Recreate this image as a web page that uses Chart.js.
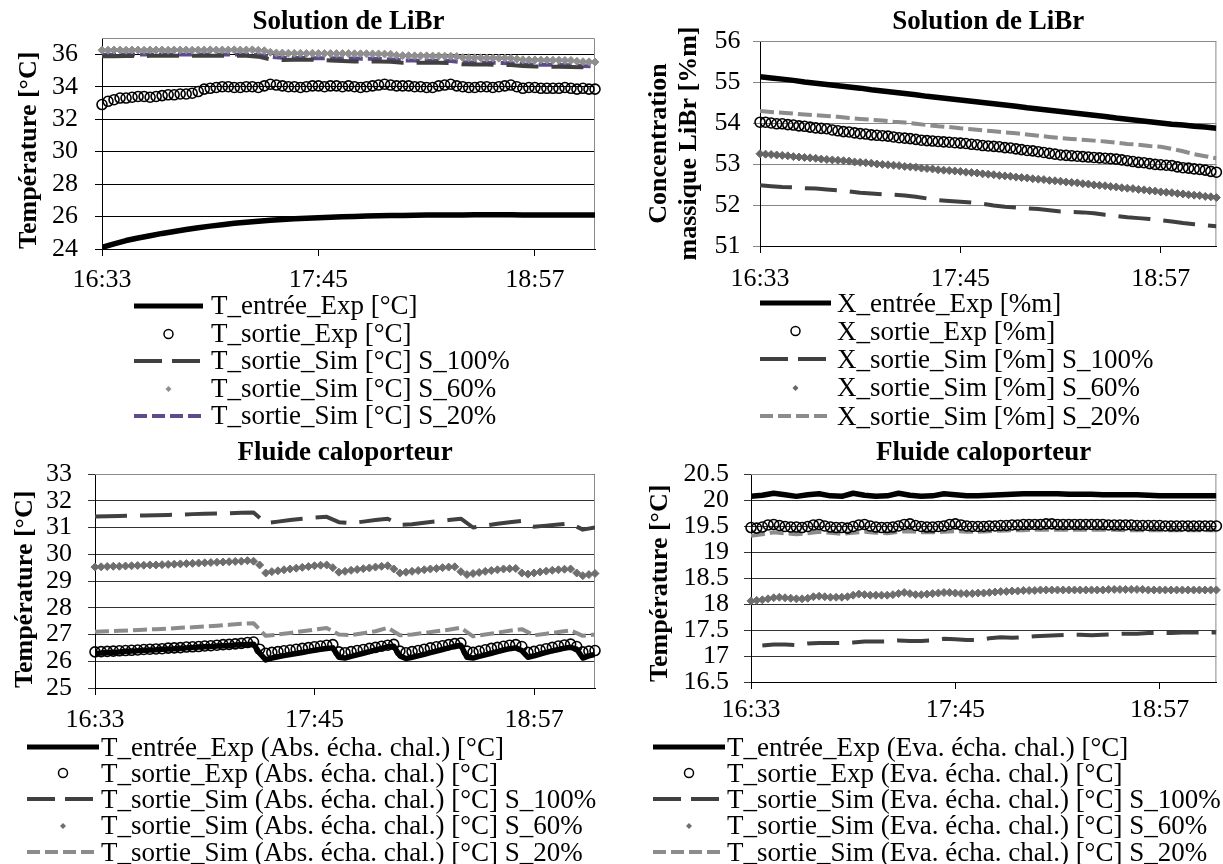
<!DOCTYPE html>
<html lang="fr">
<head>
<meta charset="utf-8">
<title>Solution de LiBr / Fluide caloporteur</title>
<script src="https://cdn.jsdelivr.net/npm/chart.js@4.4.1/dist/chart.umd.min.js"></script>
<style>
  html, body { margin: 0; padding: 0; background: #fff; }
  body { position: relative; width: 1223px; height: 864px; overflow: hidden;
         font-family: "Liberation Serif", "Times New Roman", serif; color: #000; }
  canvas { position: absolute; }
  .legend { position: absolute; font-size: 27px; }
  .legend .row { display: flex; align-items: center; white-space: nowrap; }
  .legend svg { flex: none; display: block; }
</style>
</head>
<body>
<canvas id="c1" width="610" height="300" style="left:0;top:0"></canvas>
<canvas id="c2" width="613" height="300" style="left:610px;top:0"></canvas>
<canvas id="c3" width="610" height="310" style="left:0;top:430px"></canvas>
<canvas id="c4" width="613" height="310" style="left:610px;top:430px"></canvas>
<div id="lg1" class="legend"></div>
<div id="lg2" class="legend"></div>
<div id="lg3" class="legend"></div>
<div id="lg4" class="legend"></div>
<script>
// ----------------------------- data ---------------------- >>
// time in minutes after 16:33
const xTickVals = [0, 72, 144];
const xTickLabels = ['16:33', '17:45', '18:57'];
const xRange = [0, 164];

const t2 = [0, 2, 4, 6, 8, 10, 12, 14, 16, 18,
  20, 22, 24, 26, 28, 30, 32, 34, 36, 38,
  40, 42, 44, 46, 48, 50, 52, 54, 56, 58,
  60, 62, 64, 66, 68, 70, 72, 74, 76, 78,
  80, 82, 84, 86, 88, 90, 92, 94, 96, 98,
  100, 102, 104, 106, 108, 110, 112, 114, 116, 118,
  120, 122, 124, 126, 128, 130, 132, 134, 136, 138,
  140, 142, 144, 146, 148, 150, 152, 154, 156, 158,
  160, 162, 164];
const t4 = [0, 4, 8, 12, 16, 20, 24, 28, 32, 36,
  40, 44, 48, 52, 56, 60, 64, 68, 72, 76,
  80, 84, 88, 92, 96, 100, 104, 108, 112, 116,
  120, 124, 128, 132, 136, 140, 144, 148, 152, 156,
  160, 164];

// Solution de LiBr - temperature
const p1Names = ['T_entrée_Exp [°C]', 'T_sortie_Exp [°C]', 'T_sortie_Sim [°C] S_100%',
  'T_sortie_Sim [°C] S_60%', 'T_sortie_Sim [°C] S_20%'];
const p1Ticks = [24, 26, 28, 30, 32, 34, 36];
const p1Entree = [24.1, 24.32, 24.52, 24.68, 24.82, 24.96, 25.08, 25.2, 25.31, 25.41,
  25.5, 25.58, 25.65, 25.71, 25.77, 25.82, 25.86, 25.9, 25.93, 25.96,
  25.99, 26.01, 26.03, 26.05, 26.06, 26.07, 26.08, 26.09, 26.1, 26.1,
  26.1, 26.11, 26.11, 26.11, 26.11, 26.1, 26.1, 26.1, 26.1, 26.1,
  26.1, 26.1];
const p1SortieExp = [32.9, 33.1, 33.2, 33.3, 33.3, 33.35, 33.4, 33.4, 33.35, 33.4,
  33.45, 33.5, 33.5, 33.55, 33.55, 33.6, 33.7, 33.85, 33.9, 33.95,
  34.0, 34.0, 33.95, 33.95, 34.0, 34.0, 33.95, 34.05, 34.15, 34.1,
  34.05, 34.0, 34.0, 33.95, 34.0, 34.05, 34.05, 34.0, 34.05, 34.05,
  34.0, 34.05, 34.0, 33.95, 34.0, 34.05, 34.1, 34.15, 34.1, 34.05,
  34.05, 34.05, 34.0, 34.0, 33.95, 33.95, 34.05, 34.1, 34.15, 34.05,
  34.0, 33.95, 33.95, 34.0, 34.0, 33.95, 34.0, 34.05, 34.1, 34.0,
  33.9, 33.95, 33.95, 33.9, 33.9, 33.9, 33.9, 33.95, 33.9, 33.85,
  33.9, 33.85, 33.85];
const p1Sim100 = [35.88, 35.88, 35.89, 35.89, 35.9, 35.9, 35.9, 35.9, 35.9, 35.91,
  35.91, 35.91, 35.9, 35.85, 35.68, 35.65, 35.66, 35.66, 35.65, 35.62,
  35.58, 35.55, 35.55, 35.55, 35.53, 35.48, 35.48, 35.48, 35.47, 35.45,
  35.38, 35.36, 35.36, 35.35, 35.33, 35.28, 35.25, 35.24, 35.23, 35.22,
  35.2, 35.18];
const p1Sim60 = [36.25, 36.25, 36.26, 36.26, 36.25, 36.26, 36.26, 36.25, 36.26, 36.26,
  36.26, 36.25, 36.26, 36.26, 36.26, 36.25, 36.26, 36.26, 36.27, 36.26,
  36.26, 36.26, 36.27, 36.26, 36.26, 36.27, 36.25, 36.22, 36.12, 36.08,
  36.07, 36.06, 36.06, 36.06, 36.05, 36.06, 36.05, 36.05, 36.05, 36.04,
  36.04, 36.04, 36.03, 36.03, 36.03, 36.02, 36.02, 36.01, 36.0, 35.93,
  35.91, 35.91, 35.9, 35.9, 35.9, 35.89, 35.89, 35.88, 35.88, 35.86,
  35.8, 35.79, 35.78, 35.78, 35.77, 35.77, 35.76, 35.76, 35.75, 35.7,
  35.66, 35.65, 35.65, 35.64, 35.64, 35.63, 35.63, 35.62, 35.62, 35.56,
  35.54, 35.53, 35.52];
const p1Sim20 = [35.97, 35.97, 35.98, 35.98, 35.98, 35.98, 35.98, 35.99, 35.99, 35.99,
  35.99, 35.99, 35.98, 35.96, 35.85, 35.78, 35.77, 35.76, 35.76, 35.75,
  35.74, 35.73, 35.72, 35.71, 35.68, 35.62, 35.61, 35.6, 35.6, 35.58,
  35.5, 35.49, 35.48, 35.47, 35.45, 35.38, 35.36, 35.35, 35.34, 35.32,
  35.27, 35.25];

// Solution de LiBr - concentration
const p2Names = ['X_entrée_Exp [%m]', 'X_sortie_Exp [%m]', 'X_sortie_Sim [%m] S_100%',
  'X_sortie_Sim [%m] S_60%', 'X_sortie_Sim [%m] S_20%'];
const p2Ticks = [51, 52, 53, 54, 55, 56];
const p2Entree = [55.13, 55.1, 55.07, 55.04, 55.0, 54.97, 54.94, 54.91, 54.88, 54.85,
  54.81, 54.78, 54.75, 54.72, 54.69, 54.65, 54.62, 54.59, 54.56, 54.53,
  54.5, 54.47, 54.44, 54.41, 54.37, 54.34, 54.31, 54.28, 54.25, 54.22,
  54.19, 54.16, 54.12, 54.09, 54.06, 54.03, 54.0, 53.97, 53.95, 53.92,
  53.9, 53.87];
const p2SortieExp = [54.02, 54.02, 54.0, 53.98, 53.98, 53.96, 53.95, 53.93, 53.92, 53.9,
  53.88, 53.87, 53.86, 53.83, 53.81, 53.79, 53.78, 53.76, 53.74, 53.73,
  53.71, 53.7, 53.69, 53.68, 53.66, 53.64, 53.63, 53.62, 53.6, 53.58,
  53.57, 53.56, 53.55, 53.54, 53.53, 53.52, 53.51, 53.5, 53.48, 53.47,
  53.45, 53.44, 53.43, 53.42, 53.4, 53.39, 53.37, 53.35, 53.33, 53.32,
  53.3, 53.28, 53.26, 53.24, 53.22, 53.21, 53.2, 53.19, 53.18, 53.17,
  53.16, 53.15, 53.14, 53.13, 53.12, 53.1, 53.08, 53.06, 53.04, 53.03,
  53.01, 52.99, 52.98, 52.97, 52.96, 52.93, 52.91, 52.9, 52.88, 52.87,
  52.85, 52.82, 52.8];
const p2Sim100 = [52.48, 52.46, 52.44, 52.43, 52.41, 52.4, 52.38, 52.36, 52.33, 52.3,
  52.28, 52.26, 52.25, 52.23, 52.2, 52.16, 52.12, 52.1, 52.08, 52.06,
  52.03, 51.99, 51.96, 51.94, 51.92, 51.9, 51.87, 51.84, 51.83, 51.82,
  51.8, 51.76, 51.73, 51.7, 51.68, 51.66, 51.63, 51.6, 51.56, 51.53,
  51.51, 51.48];
const p2Sim60 = [53.25, 53.24, 53.23, 53.22, 53.21, 53.2, 53.18, 53.17, 53.16, 53.15,
  53.14, 53.12, 53.11, 53.1, 53.09, 53.08, 53.07, 53.05, 53.04, 53.03,
  53.02, 53.0, 52.99, 52.98, 52.97, 52.96, 52.94, 52.93, 52.92, 52.9,
  52.89, 52.88, 52.86, 52.85, 52.84, 52.83, 52.82, 52.8, 52.79, 52.78,
  52.76, 52.75, 52.74, 52.72, 52.71, 52.7, 52.68, 52.67, 52.66, 52.64,
  52.63, 52.62, 52.6, 52.59, 52.58, 52.56, 52.55, 52.54, 52.52, 52.51,
  52.49, 52.48, 52.47, 52.45, 52.44, 52.42, 52.41, 52.4, 52.38, 52.37,
  52.35, 52.34, 52.32, 52.31, 52.3, 52.28, 52.27, 52.25, 52.24, 52.23,
  52.21, 52.2, 52.18];
const p2Sim20 = [54.29, 54.27, 54.25, 54.23, 54.21, 54.19, 54.17, 54.15, 54.12, 54.1,
  54.08, 54.06, 54.03, 54.01, 53.98, 53.95, 53.92, 53.9, 53.87, 53.85,
  53.82, 53.8, 53.77, 53.75, 53.72, 53.69, 53.66, 53.63, 53.61, 53.59,
  53.57, 53.55, 53.52, 53.49, 53.47, 53.44, 53.42, 53.37, 53.31, 53.24,
  53.19, 53.14];

// Fluide caloporteur - absorbeur
const p3Names = ['T_entrée_Exp (Abs. écha. chal.) [°C]', 'T_sortie_Exp (Abs. écha. chal.) [°C]',
  'T_sortie_Sim (Abs. écha. chal.) [°C] S_100%', 'T_sortie_Sim (Abs. écha. chal.) [°C] S_60%',
  'T_sortie_Sim (Abs. écha. chal.) [°C] S_20%'];
const p3Ticks = [25, 26, 27, 28, 29, 30, 31, 32, 33];
const p3Entree = [26.3, 26.31, 26.33, 26.34, 26.35, 26.37, 26.38, 26.39, 26.41, 26.42,
  26.43, 26.45, 26.46, 26.47, 26.49, 26.5, 26.51, 26.53, 26.54, 26.55,
  26.57, 26.58, 26.59, 26.61, 26.62, 26.63, 26.64, 26.3, 26.05, 26.12,
  26.17, 26.21, 26.25, 26.29, 26.33, 26.37, 26.41, 26.45, 26.48, 26.5,
  26.15, 26.12, 26.18, 26.24, 26.3, 26.36, 26.42, 26.48, 26.54, 26.56,
  26.2, 26.1, 26.15, 26.2, 26.26, 26.32, 26.38, 26.44, 26.5, 26.56,
  26.6, 26.15, 26.12, 26.18, 26.24, 26.3, 26.36, 26.42, 26.47, 26.5,
  26.4, 26.15, 26.2, 26.27, 26.33, 26.39, 26.44, 26.49, 26.52, 26.45,
  26.12, 26.2, 26.26];
const p3SortieExp = [26.35, 26.36, 26.37, 26.38, 26.39, 26.4, 26.41, 26.42, 26.44, 26.45,
  26.46, 26.47, 26.49, 26.5, 26.51, 26.53, 26.54, 26.55, 26.57, 26.58,
  26.6, 26.62, 26.63, 26.65, 26.67, 26.7, 26.72, 26.45, 26.3, 26.33,
  26.36, 26.39, 26.42, 26.45, 26.48, 26.51, 26.54, 26.57, 26.6, 26.62,
  26.35, 26.32, 26.36, 26.4, 26.44, 26.48, 26.52, 26.56, 26.6, 26.63,
  26.38, 26.32, 26.36, 26.4, 26.45, 26.5, 26.54, 26.58, 26.62, 26.66,
  26.68, 26.38, 26.33, 26.38, 26.43, 26.48, 26.52, 26.56, 26.6, 26.62,
  26.55, 26.33, 26.37, 26.42, 26.47, 26.52, 26.57, 26.61, 26.64, 26.55,
  26.35, 26.38, 26.4];
const p3Sim100 = [31.41, 31.42, 31.43, 31.44, 31.45, 31.46, 31.47, 31.48, 31.5, 31.51,
  31.52, 31.53, 31.55, 31.56, 31.16, 31.22, 31.28, 31.33, 31.37, 31.4,
  31.2, 31.16, 31.22, 31.28, 31.33, 31.1, 31.12, 31.18, 31.23, 31.28,
  31.33, 31.0, 31.07, 31.14, 31.2, 31.25, 31.03, 31.07, 31.11, 31.15,
  30.92, 31.0];
const p3Sim60 = [29.52, 29.53, 29.54, 29.55, 29.55, 29.56, 29.57, 29.58, 29.59, 29.6,
  29.6, 29.61, 29.62, 29.63, 29.64, 29.65, 29.66, 29.67, 29.68, 29.69,
  29.7, 29.71, 29.72, 29.73, 29.74, 29.76, 29.74, 29.6, 29.3, 29.35,
  29.38, 29.42, 29.45, 29.48, 29.51, 29.54, 29.57, 29.59, 29.6, 29.5,
  29.33, 29.36, 29.4, 29.43, 29.46, 29.49, 29.52, 29.55, 29.57, 29.45,
  29.3, 29.33, 29.36, 29.39, 29.42, 29.45, 29.47, 29.5, 29.52, 29.53,
  29.35, 29.24, 29.28, 29.32, 29.36, 29.39, 29.42, 29.45, 29.46, 29.47,
  29.3, 29.26, 29.3, 29.34, 29.37, 29.4, 29.42, 29.44, 29.45, 29.3,
  29.2, 29.24, 29.28];
const p3Sim20 = [27.1, 27.12, 27.14, 27.16, 27.18, 27.2, 27.22, 27.25, 27.27, 27.3,
  27.33, 27.36, 27.4, 27.42, 26.95, 27.0, 27.06, 27.12, 27.18, 27.24,
  27.0, 26.98, 27.05, 27.12, 27.25, 26.97, 27.0, 27.06, 27.12, 27.18,
  27.25, 26.93, 27.0, 27.07, 27.14, 27.2, 26.97, 27.03, 27.09, 27.15,
  26.95, 27.0];

// Fluide caloporteur - evaporateur
const p4Names = ['T_entrée_Exp (Eva. écha. chal.) [°C]', 'T_sortie_Exp (Eva. écha. chal.) [°C]',
  'T_sortie_Sim (Eva. écha. chal.) [°C] S_100%', 'T_sortie_Sim (Eva. écha. chal.) [°C] S_60%',
  'T_sortie_Sim (Eva. écha. chal.) [°C] S_20%'];
const p4Ticks = [16.5, 17, 17.5, 18, 18.5, 19, 19.5, 20, 20.5];
const p4Entree = [20.07, 20.09, 20.13, 20.1, 20.07, 20.1, 20.12, 20.08, 20.07, 20.13,
  20.09, 20.07, 20.08, 20.13, 20.09, 20.07, 20.08, 20.12, 20.1, 20.08,
  20.08, 20.09, 20.1, 20.11, 20.12, 20.12, 20.12, 20.12, 20.11, 20.11,
  20.11, 20.1, 20.1, 20.1, 20.1, 20.09, 20.08, 20.08, 20.08, 20.08,
  20.08, 20.08];
const p4SortieExp = [19.47, 19.46, 19.48, 19.52, 19.53, 19.51, 19.49, 19.48, 19.48, 19.47,
  19.49, 19.52, 19.53, 19.5, 19.48, 19.47, 19.47, 19.46, 19.49, 19.52,
  19.53, 19.5, 19.48, 19.47, 19.47, 19.48, 19.5, 19.53, 19.54, 19.51,
  19.49, 19.48, 19.48, 19.49, 19.5, 19.53, 19.54, 19.52, 19.5, 19.49,
  19.49, 19.49, 19.5, 19.5, 19.51, 19.51, 19.52, 19.52, 19.53, 19.53,
  19.53, 19.53, 19.54, 19.54, 19.53, 19.53, 19.53, 19.53, 19.53, 19.53,
  19.53, 19.53, 19.53, 19.52, 19.52, 19.52, 19.52, 19.52, 19.51, 19.51,
  19.51, 19.51, 19.51, 19.5, 19.5, 19.5, 19.5, 19.5, 19.5, 19.5,
  19.5, 19.5, 19.5];
const p4Sim100 = [null, 17.2, 17.22, 17.22, 17.21, 17.24, 17.25, 17.25, 17.25, 17.26,
  17.28, 17.28, 17.28, 17.3, 17.29, 17.29, 17.3, 17.33, 17.32, 17.31,
  17.31, 17.34, 17.36, 17.35, 17.36, 17.38, 17.39, 17.4, 17.41, 17.41,
  17.4, 17.41, 17.42, 17.43, 17.43, 17.44, 17.44, 17.44, 17.45, 17.45,
  17.45, 17.45];
const p4Sim60 = [18.06, 18.07, 18.08, 18.1, 18.12, 18.13, 18.12, 18.11, 18.1, 18.1,
  18.11, 18.14, 18.15, 18.14, 18.13, 18.13, 18.13, 18.14, 18.17, 18.19,
  18.18, 18.17, 18.17, 18.17, 18.17, 18.18, 18.2, 18.22, 18.2, 18.18,
  18.18, 18.19, 18.2, 18.21, 18.22, 18.22, 18.21, 18.2, 18.2, 18.2,
  18.21, 18.21, 18.22, 18.23, 18.24, 18.24, 18.25, 18.25, 18.26, 18.26,
  18.26, 18.27, 18.27, 18.27, 18.27, 18.27, 18.27, 18.27, 18.27, 18.27,
  18.27, 18.27, 18.27, 18.28, 18.28, 18.28, 18.28, 18.28, 18.28, 18.28,
  18.27, 18.27, 18.27, 18.27, 18.27, 18.27, 18.27, 18.27, 18.27, 18.27,
  18.27, 18.27, 18.27];
const p4Sim20 = [19.31, 19.34, 19.38, 19.36, 19.34, 19.36, 19.39, 19.37, 19.35, 19.37,
  19.39, 19.37, 19.36, 19.39, 19.4, 19.38, 19.38, 19.39, 19.4, 19.39,
  19.39, 19.4, 19.41, 19.42, 19.42, 19.43, 19.43, 19.43, 19.43, 19.43,
  19.43, 19.43, 19.43, 19.42, 19.42, 19.42, 19.42, 19.42, 19.42, 19.42,
  19.42, 19.42];

// ----------------------------- charts ---------------------- >>
Chart.defaults.font.family = '"Liberation Serif", "Times New Roman", serif';
Chart.defaults.color = '#000';

function pts(xs, ys) {
  return xs.map((x, i) => ({ x: x, y: ys[i] }));
}
// order: higher is drawn first (underneath)
function solid(label, xs, ys) {
  return { label, data: pts(xs, ys), borderColor: '#000', borderWidth: 5.5, pointRadius: 0, order: 6 };
}
function circles(label, xs, ys) {
  return { label, data: pts(xs, ys), showLine: false, pointStyle: 'circle', pointRadius: 5,
    pointBorderWidth: 1.6, pointBorderColor: '#000', pointBackgroundColor: 'rgba(0,0,0,0)', order: 3, clip: 8 };
}
function longDash(label, xs, ys) {
  return { label, data: pts(xs, ys), borderColor: '#404040', borderWidth: 4, borderDash: [32, 13],
    pointRadius: 0, order: 4 };
}
function diamonds(label, xs, ys, color) {
  return { label, data: pts(xs, ys), showLine: false, pointStyle: 'rectRot', pointRadius: 4,
    pointBorderWidth: 1, pointBorderColor: color, pointBackgroundColor: color, order: 2, clip: 6 };
}
function shortDash(label, xs, ys, color) {
  return { label, data: pts(xs, ys), borderColor: color, borderWidth: 4, borderDash: [14, 5],
    pointRadius: 0, order: 5 };
}

// grey frame on top and right of plot area
const plotFrame = {
  id: 'plotFrame',
  beforeDatasetsDraw(chart) {
    const a = chart.chartArea, ctx = chart.ctx;
    ctx.save();
    ctx.strokeStyle = '#8a8a8a';
    ctx.lineWidth = 1;
    ctx.beginPath();
    ctx.moveTo(a.left, a.top + 0.5);
    ctx.lineTo(a.right - 0.5, a.top + 0.5);
    ctx.lineTo(a.right - 0.5, a.bottom);
    ctx.stroke();
    ctx.restore();
  }
};

function makeChart(id, o) {
  return new Chart(document.getElementById(id), {
    type: 'line',
    data: { datasets: o.datasets },
    plugins: [plotFrame],
    options: {
      responsive: false,
      animation: false,
      devicePixelRatio: 1,
      layout: { padding: { left: 0, right: o.padRight, top: 0, bottom: 0 } },
      elements: { line: { tension: 0, borderJoinStyle: 'round' } },
      plugins: {
        legend: { display: false },
        tooltip: { enabled: false },
        title: { display: true, text: o.title, fullSize: false, color: '#000',
          font: { size: 27, weight: 'bold', lineHeight: 1.2 }, padding: o.titlePad }
      },
      scales: {
        x: {
          type: 'linear', min: xRange[0], max: xRange[1],
          afterBuildTicks: s => { s.ticks = xTickVals.map(v => ({ value: v })); },
          afterFit: s => { s.height = o.xHeight; },
          grid: { drawOnChartArea: false, drawTicks: true, tickLength: 7, color: '#000' },
          border: { color: '#000', width: 1 },
          ticks: { autoSkip: false, maxRotation: 0, padding: o.xPad, color: '#000', font: { size: 26 },
            callback: v => xTickLabels[xTickVals.indexOf(v)] }
        },
        y: {
          min: o.yTicks[0], max: o.yMax,
          afterBuildTicks: s => { s.ticks = o.yTicks.map(v => ({ value: v })); },
          afterFit: s => { s.width = o.yWidth; },
          grid: { color: o.gridColor, tickLength: 7 },
          border: { color: '#000', width: 1 },
          ticks: { autoSkip: false, padding: o.yPad, color: '#000', font: { size: 26 }, callback: v => String(v) },
          title: { display: true, text: o.yTitle, align: o.yAlign, color: '#000',
            font: { size: 26, weight: 'bold', lineHeight: o.yLineH },
            padding: { top: o.yTitlePad, bottom: 0 } }
        }
      }
    }
  });
}

makeChart('c1', {
  title: 'Solution de LiBr', titlePad: { top: 5.5, bottom: 0.1 }, padRight: 15,
  xHeight: 51, xPad: 9, yTicks: p1Ticks, yMax: 37, yWidth: 102, yPad: 17, gridColor: '#000',
  yTitle: 'Température [°C]', yAlign: 'start', yLineH: 1.2, yTitlePad: 14,
  datasets: [
    solid(p1Names[0], t4, p1Entree),
    circles(p1Names[1], t2, p1SortieExp),
    longDash(p1Names[2], t4, p1Sim100),
    diamonds(p1Names[3], t2, p1Sim60, '#8f8f8f'),
    shortDash(p1Names[4], t4, p1Sim20, '#5f4b8b')
  ]
});

makeChart('c2', {
  title: 'Solution de LiBr', titlePad: { top: 5.5, bottom: 3.1 }, padRight: 1,
  xHeight: 54, xPad: 11, yTicks: p2Ticks, yMax: 56, yWidth: 150, yPad: 12.5, gridColor: '#868686',
  yTitle: ['Concentration', 'massique LiBr [%m]'], yAlign: 'center', yLineH: 1.15, yTitlePad: 34,
  datasets: [
    solid(p2Names[0], t4, p2Entree),
    circles(p2Names[1], t2, p2SortieExp),
    longDash(p2Names[2], t4, p2Sim100),
    diamonds(p2Names[3], t2, p2Sim60, '#666666'),
    shortDash(p2Names[4], t4, p2Sim20, '#8c8c8c')
  ]
});

makeChart('c3', {
  title: 'Fluide caloporteur', titlePad: { top: 6.6, bottom: 5 }, padRight: 15,
  xHeight: 52, xPad: 10, yTicks: p3Ticks, yMax: 33, yWidth: 95, yPad: 16, gridColor: '#333333',
  yTitle: 'Température [°C]', yAlign: 'start', yLineH: 1.2, yTitlePad: 9.4,
  datasets: [
    solid(p3Names[0], t2, p3Entree),
    circles(p3Names[1], t2, p3SortieExp),
    longDash(p3Names[2], t4, p3Sim100),
    diamonds(p3Names[3], t2, p3Sim60, '#6e6e6e'),
    shortDash(p3Names[4], t4, p3Sim20, '#8c8c8c')
  ]
});

makeChart('c4', {
  title: 'Fluide caloporteur', titlePad: { top: 6.6, bottom: 5 }, padRight: 5,
  xHeight: 58, xPad: 6, yTicks: p4Ticks, yMax: 20.5, yWidth: 141, yPad: 15, gridColor: '#333333',
  yTitle: 'Température [°C]', yAlign: 'start', yLineH: 1.2, yTitlePad: 35,
  datasets: [
    solid(p4Names[0], t4, p4Entree),
    circles(p4Names[1], t2, p4SortieExp),
    longDash(p4Names[2], t4, p4Sim100),
    diamonds(p4Names[3], t2, p4Sim60, '#6e6e6e'),
    shortDash(p4Names[4], t4, p4Sim20, '#8c8c8c')
  ]
});

// ----------------------------- legends ---------------------- >>
function sample(kind, color, w) {
  const h = 20, m = h / 2;
  let inner = '';
  if (kind === 'solid') {
    inner = `<line x1="0" y1="${m}" x2="${w}" y2="${m}" stroke="#000" stroke-width="5"/>`;
  } else if (kind === 'circle') {
    inner = `<circle cx="${w / 2}" cy="${m}" r="4.5" fill="none" stroke="#000" stroke-width="1.5"/>`;
  } else if (kind === 'long') {
    inner = `<line x1="0" y1="${m}" x2="${w}" y2="${m}" stroke="#404040" stroke-width="4" stroke-dasharray="28 10"/>`;
  } else if (kind === 'diamond') {
    const c = w / 2;
    inner = `<polygon points="${c},${m - 3} ${c + 3},${m} ${c},${m + 3} ${c - 3},${m}" fill="${color}"/>`;
  } else {
    inner = `<line x1="0" y1="${m}" x2="${w}" y2="${m}" stroke="${color}" stroke-width="4" stroke-dasharray="13 5"/>`;
  }
  return `<svg width="${w}" height="${h}">${inner}</svg>`;
}

function buildLegend(id, names, lg) {
  const el = document.getElementById(id);
  el.style.left = lg.left + 'px';
  el.style.top = (lg.firstRow - lg.pitch / 2) + 'px';
  const kinds = ['solid', 'circle', 'long', 'diamond', 'short'];
  el.innerHTML = names.map((n, i) =>
    `<div class="row" style="height:${lg.pitch}px">${sample(kinds[i], lg.colors[i], lg.sampleW)}` +
    `<span style="margin-left:${lg.gap}px;line-height:${lg.pitch}px">${n}</span></div>`).join('');
}

buildLegend('lg1', p1Names, { left: 134, firstRow: 306, pitch: 27.5, sampleW: 69, gap: 8,
  colors: ['#000', '#000', '#404040', '#8f8f8f', '#5f4b8b'] });
buildLegend('lg2', p2Names, { left: 760, firstRow: 303, pitch: 28.2, sampleW: 71, gap: 6,
  colors: ['#000', '#000', '#404040', '#666666', '#8c8c8c'] });
buildLegend('lg3', p3Names, { left: 27, firstRow: 747, pitch: 26.2, sampleW: 72, gap: 2,
  colors: ['#000', '#000', '#404040', '#6e6e6e', '#8c8c8c'] });
buildLegend('lg4', p4Names, { left: 653, firstRow: 747, pitch: 26.2, sampleW: 72, gap: 2,
  colors: ['#000', '#000', '#404040', '#6e6e6e', '#8c8c8c'] });
</script>
</body>
</html>
